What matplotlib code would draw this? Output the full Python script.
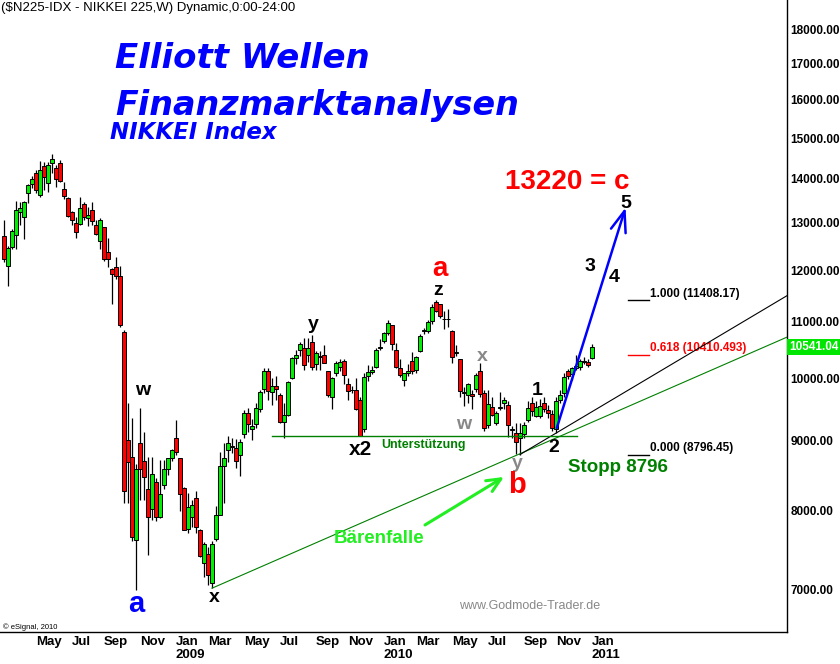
import numpy as np
import pandas as pd
import matplotlib
matplotlib.use("Agg")
import matplotlib.pyplot as plt
from matplotlib.ticker import FixedLocator, NullLocator, FuncFormatter

plt.rcParams['font.family'] = ['Liberation Sans', 'DejaVu Sans']

# weekly bars of the Nikkei 225, first bar = week of 10 Mar 2008
weeks = pd.date_range('2008-03-10', periods=148, freq='W-MON')

opens = [12716, 12095, 12490, 12730, 13240, 13140, 13665, 13890, 14140, 13630,
         14300, 13900, 14380, 14270, 14370, 13760, 13560, 13230, 12990, 12980,
         13420, 13110, 13290, 12950, 12610, 12920, 12370, 12030, 12060, 11890,
         10820, 9015, 8760, 7620, 8970, 8700, 8300, 8030, 8400, 7920,
         8357, 8590, 8740, 9040, 8740, 8310, 7756, 7921, 8170, 7745,
         7322, 7440, 7080, 7630, 7950, 8630, 8870, 8920, 8900, 8790,
         9100, 9430, 9180, 9260, 9500, 9830, 10130, 9780, 9880, 9730,
         9290, 9400, 10000, 10350, 10500, 10520, 10400, 10630, 10250, 10380,
         10400, 10120, 9700, 10100, 10200, 10300, 9910, 9800, 9800, 9650,
         9190, 10050, 10110, 10200, 10520, 10654, 10800, 10950, 10500, 10180,
         9980, 10100, 10300, 10140, 10480, 10830, 10830, 11010, 11380, 11330,
         11050, 11050, 10830, 10440, 10330, 9770, 9725, 9740, 9820, 10120,
         9750, 9240, 9530, 9280, 9510, 9590, 9570, 9160, 9120, 9050,
         9100, 9330, 9600, 9380, 9390, 9600, 9480, 9420, 9180, 9650,
         9760, 10120, 10080, 10180, 10200, 10300, 10290, 10350]
highs = [13063, 12500, 12870, 13480, 13470, 13490, 13880, 14066, 14214, 14420,
         14400, 14400, 14600, 14330, 14456, 13940, 13580, 13270, 13136, 13590,
         13474, 13360, 13474, 13063, 13100, 12920, 12670, 12050, 12270, 12080,
         10850, 9600, 9360, 8650, 9510, 9130, 8760, 8760, 8450, 8716,
         8716, 8750, 8880, 9325, 8750, 8330, 8240, 8147, 8270, 7760,
         7590, 7530, 7600, 8070, 8840, 8970, 9080, 9050, 9030, 9030,
         9480, 9510, 9340, 9600, 9800, 10170, 10170, 10000, 10050, 9760,
         9600, 9960, 10370, 10490, 10640, 10700, 10700, 10760, 10480, 10480,
         10580, 10130, 10030, 10300, 10330, 10330, 10000, 9880, 10000, 9700,
         10090, 10230, 10220, 10520, 10680, 10820, 11030, 10950, 10620, 10330,
         10100, 10250, 10460, 10380, 10780, 10880, 11030, 11340, 11410, 11340,
         11200, 11250, 10850, 10580, 10340, 9850, 9920, 9800, 10100, 10270,
         9800, 9808, 9700, 9460, 9780, 9690, 9620, 9230, 9270, 9270,
         9300, 9630, 9700, 9620, 9660, 9700, 9560, 9480, 9700, 9800,
         10100, 10160, 10200, 10400, 10340, 10370, 10330, 10600]
lows = [12180, 11691, 12440, 12440, 12950, 12660, 13450, 13780, 13680, 13590,
        13740, 13700, 14150, 13800, 13930, 13530, 13136, 12950, 12680, 12950,
        13063, 12940, 12950, 12730, 12450, 12200, 12060, 11340, 11820, 10900,
        8110, 8100, 7600, 6994, 8150, 8147, 7420, 7880, 7860, 7900,
        8300, 8500, 8700, 8790, 8000, 7740, 7700, 7790, 7700, 7400,
        7157, 7060, 7021, 7600, 7950, 8100, 8680, 8820, 8600, 8490,
        9050, 9140, 9016, 9200, 9450, 9760, 9650, 9560, 9640, 9270,
        9050, 9380, 9990, 10250, 10380, 10150, 10280, 10150, 10140, 10150,
        10330, 9700, 9500, 10050, 10120, 9900, 9650, 9750, 9480, 9076,
        9140, 9950, 10070, 10180, 10500, 10620, 10760, 10500, 10180, 10030,
        9870, 10050, 10080, 10100, 10450, 10780, 10800, 10960, 11190, 11080,
        10870, 10900, 10270, 10380, 9700, 9540, 9600, 9500, 9780, 9700,
        9150, 9200, 9380, 9250, 9480, 9500, 9060, 9050, 8800, 8796,
        9050, 9300, 9380, 9370, 9350, 9450, 9350, 9150, 9123, 9600,
        9700, 9990, 9980, 10150, 10150, 10240, 10200, 10330]
closes = [12241, 12460, 12820, 13290, 13330, 13477, 13863, 14000, 13740, 14220,
          14050, 14338, 14489, 14000, 13960, 13600, 13160, 13060, 12800, 13334,
          13140, 13180, 13040, 12760, 13072, 12230, 12230, 11920, 11893, 10938,
          8276, 8693, 7649, 8577, 8583, 8462, 7910, 8512, 7917, 8235,
          8588, 8739, 8859, 8836, 8230, 7745, 8050, 8076, 7779, 7416,
          7568, 7173, 7569, 7945, 8626, 8749, 8964, 8907, 8707, 8977,
          9432, 9265, 9225, 9522, 9768, 10135, 9786, 9877, 9816, 9287,
          9395, 9945, 10357, 10412, 10597, 10238, 10534, 10187, 10444, 10370,
          10265, 9731, 10016, 10257, 10282, 10060, 9789, 9804, 9497, 9081,
          10022, 10107, 10142, 10494, 10546, 10798, 10982, 10590, 10198, 10057,
          10092, 10123, 10126, 10368, 10751, 10846, 10996, 11286, 11204, 11102,
          11060, 11057, 10364, 10462, 9784, 9762, 9901, 9705, 10067, 9737,
          9203, 9585, 9408, 9431, 9537, 9642, 9253, 9180, 8991, 9114,
          9239, 9509, 9471, 9530, 9540, 9500, 9427, 9202, 9625, 9724,
          10022, 10039, 10178, 10212, 10304, 10279, 10229, 10541.04]

price_ticks = [7000, 8000, 9000, 10000, 11000, 12000, 13000, 14000,
               15000, 16000, 17000, 18000]

fib_labels = ['1.000 (11408.17)', '0.618 (10410.493)', '0.000 (8796.45)']
fib_prices = [11408.17, 10410.493, 8796.45]
fib_colors = ['black', 'red', 'black']

support_level = 9075
x_low = (52, 7021)          # march 2009 low
b_low = (129, 8796)         # sept 2010 low
green_end = (196, 10730)
black_end = (196, 11510)
wave_start = (138.2, 9199)
wave_target = (155.4, 13341)
trap_from = (105.25, 7811)
trap_to = (125, 8470)

W, H = 840, 664


def fx(x):
    return x / W


def fy(y):
    return 1 - y / H


fig = plt.figure(figsize=(8.4, 6.64), dpi=100)
ax = fig.add_axes([0, 32 / H, 787 / W, 632 / H])
ax.set_yscale('log')
ax.set_xlim(-1, 195.75)
ax.set_ylim(6521, 18932)

o = np.array(opens, dtype=float)
h = np.array(highs, dtype=float)
l = np.array(lows, dtype=float)
c = np.array(closes, dtype=float)
idx = np.arange(len(c))
colors = np.where(c >= o, '#00ee00', '#ff0000')

ax.vlines(idx, l, h, color='black', lw=0.9, zorder=2)
ax.bar(idx, np.abs(c - o), bottom=np.minimum(o, c), width=0.8,
       color=colors, edgecolor='black', linewidth=0.7, zorder=3)

# trend lines
ax.plot([x_low[0], green_end[0]], [x_low[1], green_end[1]], color='#008000', lw=0.8, zorder=4)
ax.plot([b_low[0], black_end[0]], [b_low[1], black_end[1]], color='black', lw=0.8, zorder=4)
ax.plot([67, 143.2], [support_level, support_level], color='#008000', lw=1.0, zorder=4)

# fibonacci levels
for lab, p, col in zip(fib_labels, fib_prices, fib_colors):
    ax.plot([156, 161.2], [p, p], color=col, lw=1.0)
    ax.annotate(lab, xy=(161.5, p), xytext=(0, 2.5), textcoords='offset points',
                color=col, fontsize=8.5, fontweight='bold', va='baseline', ha='left')

# projected wave
ax.annotate('', xy=wave_target, xytext=wave_start,
            arrowprops=dict(arrowstyle='->,head_length=1.5,head_width=0.55',
                            color='#0000ff', lw=1.8, shrinkA=0, shrinkB=0), zorder=5)
ax.annotate('', xy=trap_to, xytext=trap_from,
            arrowprops=dict(arrowstyle='->,head_length=1.0,head_width=0.45',
                            color='#22ee22', lw=2.2, shrinkA=0, shrinkB=0), zorder=5)

# last price marker
ax.annotate(f'{closes[-1]:.2f}', xy=(1, closes[-1]), xycoords=('axes fraction', 'data'),
            xytext=(1.5, 0), textcoords='offset points', ha='left', va='center',
            color='white', fontsize=8.5, fontweight='bold', annotation_clip=False,
            bbox=dict(boxstyle='square,pad=0.15', fc='#00e600', ec='none'))

# axes styling
for s in ['top', 'left']:
    ax.spines[s].set_visible(False)
for s in ['right', 'bottom']:
    ax.spines[s].set_linewidth(1.0)
    ax.spines[s].set_color('black')

ax.yaxis.tick_right()
ax.yaxis.set_major_locator(FixedLocator(price_ticks))
ax.yaxis.set_minor_locator(NullLocator())
ax.yaxis.set_major_formatter(FuncFormatter(lambda v, pos: f'{v:.2f}'))
ax.tick_params(axis='y', length=0, pad=2.5, labelsize=8.5)

ticks, labels = [], []
for i in range(1, len(weeks)):
    if weeks[i].month != weeks[i - 1].month and weeks[i].month % 2 == 1:
        ticks.append(i)
        lab = weeks[i].strftime('%b')
        if weeks[i].month == 1:
            lab += f'\n{weeks[i].year}'
        labels.append(lab)
ax.set_xticks(ticks, labels)
ax.tick_params(axis='x', length=0, pad=3, labelsize=9.5)
for t in ax.get_xticklabels():
    t.set_ha('left')
    t.set_fontweight('bold')
    t.set_linespacing(1.1)
for t in ax.get_yticklabels():
    t.set_fontweight('bold')

# header and titles
fig.text(fx(1), fy(11), '($N225-IDX - NIKKEI 225,W) Dynamic,0:00-24:00',
         fontsize=9.5, va='baseline', ha='left')
title_kw = dict(color='#0000ff', fontweight='bold', style='italic',
                family=['DejaVu Sans'], va='baseline', ha='left')
fig.text(fx(115), fy(68), 'Elliott Wellen', fontsize=24.5, **title_kw)
fig.text(fx(115), fy(115), 'Finanzmarktanalysen', fontsize=24, **title_kw)
fig.text(fx(110), fy(139), 'NIKKEI Index', fontsize=16.5, **title_kw)

# wave labels (pixel positions of the reference, baseline)
waves = [
    ('w', 143, 395, 'black', 14), ('a', 136, 612, '#0000ff', 21),
    ('x', 214, 602, 'black', 14), ('y', 313, 329, 'black', 14),
    ('x2', 360, 455, 'black', 15), ('a', 440, 276, '#ff0000', 20),
    ('z', 438, 295, 'black', 14), ('x', 482, 361, '#888888', 14),
    ('w', 464, 429, '#888888', 14), ('y', 517, 468, '#888888', 14),
    ('b', 517, 493, '#ff0000', 21), ('1', 537, 395, 'black', 14),
    ('2', 554, 452, 'black', 14), ('3', 590, 271, 'black', 14),
    ('4', 614, 282, 'black', 14), ('5', 626, 208, 'black', 14),
]
for s, x, y, col, size in waves:
    fig.text(fx(x), fy(y), s, color=col, fontsize=size, fontweight='bold',
             ha='center', va='baseline')

fig.text(fx(505), fy(189), '13220 = c', color='#ff0000', fontsize=20,
         fontweight='bold', ha='left', va='baseline')
fig.text(fx(568), fy(472), 'Stopp 8796', color='#008000', fontsize=13.5,
         fontweight='bold', ha='left', va='baseline')
fig.text(fx(379), fy(543), 'Bärenfalle', color='#22ee22', fontsize=13.5,
         fontweight='bold', ha='center', va='baseline')
fig.text(fx(423), fy(448), 'Unterstützung', color='#008000', fontsize=9,
         fontweight='bold', ha='center', va='baseline')
fig.text(fx(530), fy(609), 'www.Godmode-Trader.de', color='#888888', fontsize=9,
         ha='center', va='baseline')
fig.text(fx(3), fy(629), '© eSignal, 2010', color='black', fontsize=5.5,
         ha='left', va='baseline')

fig.savefig('out.png', dpi=100)
